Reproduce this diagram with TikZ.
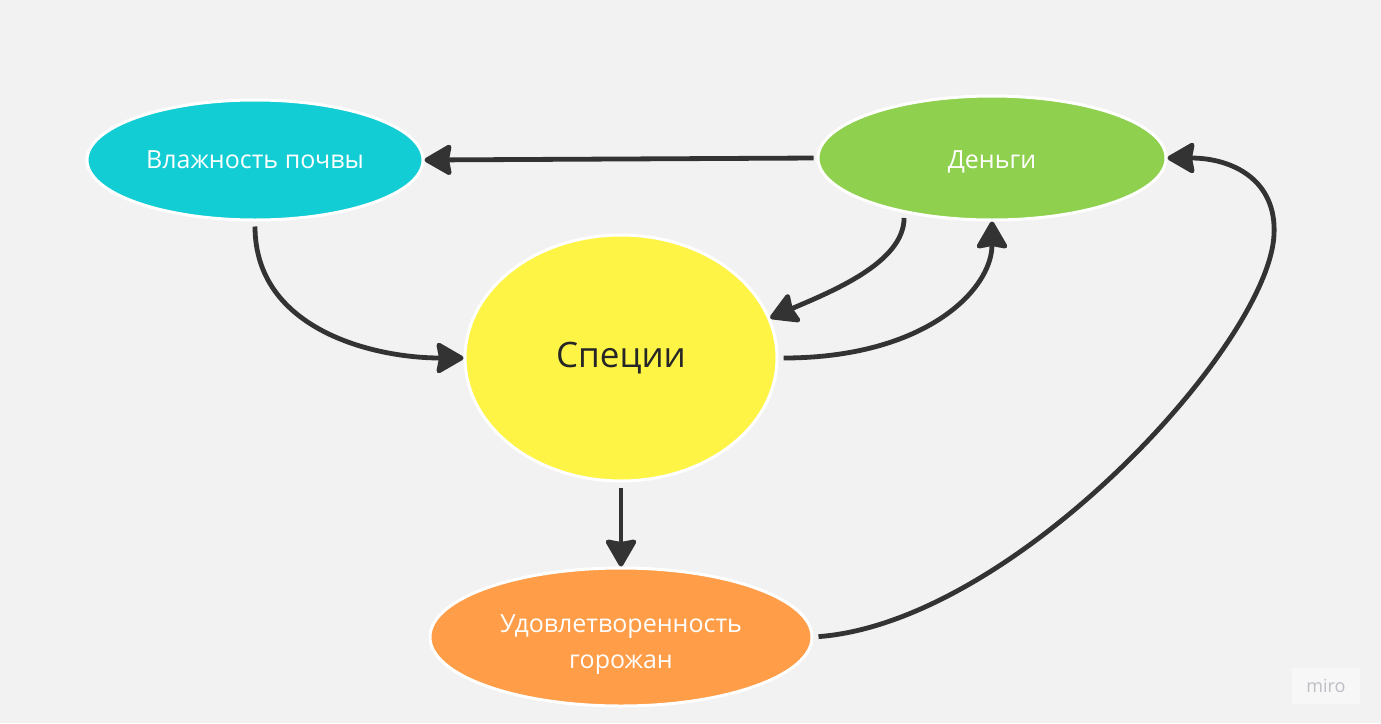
\documentclass[tikz,border=0pt]{standalone}
\usepackage{fontspec}
\setmainfont{Open Sans}
\usepackage{xcolor}
\usepackage{tikz}
\usetikzlibrary{arrows.meta, positioning, shapes.geometric}
\definecolor{mycyan}{RGB}{18, 205, 212}
\definecolor{mygreen}{RGB}{143, 209, 79}
\definecolor{myyellow}{RGB}{254, 244, 69}
\definecolor{myorange}{RGB}{255, 157, 72}
\definecolor{mydark}{RGB}{51, 51, 51}
\definecolor{mybg}{RGB}{242, 242, 242}
\definecolor{mymark}{RGB}{190, 190, 198}

\begin{document}
\begin{tikzpicture}[x=1pt, y=-1pt,
    bubble/.style={ellipse, draw=white, line width=3pt, inner sep=0pt, align=center, text=white, font=\fontsize{25}{36}\selectfont},
    link/.style={draw=mydark, line width=4.8pt, -{Stealth[length=30pt, width=34pt, inset=3pt, round]}}]
    \fill[mybg] (0,0) rectangle (1381,723);
    \useasboundingbox (0,0) rectangle (1381,723);

    % Влажность почвы
    \node[bubble, fill=mycyan, minimum width=336pt, minimum height=120pt] (moist) at (255,160) {Влажность почвы};
    % Деньги
    \node[bubble, fill=mygreen, minimum width=348pt, minimum height=124pt] (money) at (992,158) {\rule{0pt}{25pt}Деньги};
    % Специи
    \node[bubble, fill=myyellow, minimum width=312pt, minimum height=246pt, text=black!85, font=\fontsize{35}{40}\selectfont] (spice) at (621,358) {Специи};
    % Удовлетворенность
    \node[bubble, fill=myorange, minimum width=382pt, minimum height=138pt] (happy) at (621,637) {\rule{0pt}{33pt}Удовлетворенность\\горожан};
    \coordinate (bend) at (1274,235);

    % связи
    \draw[link, shorten <=3pt] (money.west) -- (moist.east);
    \draw[link, shorten <=5pt] (moist.south) .. controls +(0,108) and +(-90,0) .. (spice.west);
    \draw[link, shorten <=5pt] (money.212) .. controls +(0,50) and +(60,-26) .. (spice.15);
    \draw[link, shorten <=5pt] (spice.east) .. controls +(147,0) and +(0,68) .. (money.south);
    \draw[link, shorten <=5pt] (spice.south) -- (happy.north);
    \draw[link, shorten <=5pt] (happy.east) .. controls +(200,-15) and +(-6,110) .. (bend)
        .. controls +(3,-55) and +(65,0) .. (money.east);

    % miro
    \node[fill=mybg!60!white, text=mymark, font=\fontsize{18}{20}\selectfont, minimum width=68pt, minimum height=36pt] (logo) at (1326,686) {miro};
\end{tikzpicture}
\end{document}
